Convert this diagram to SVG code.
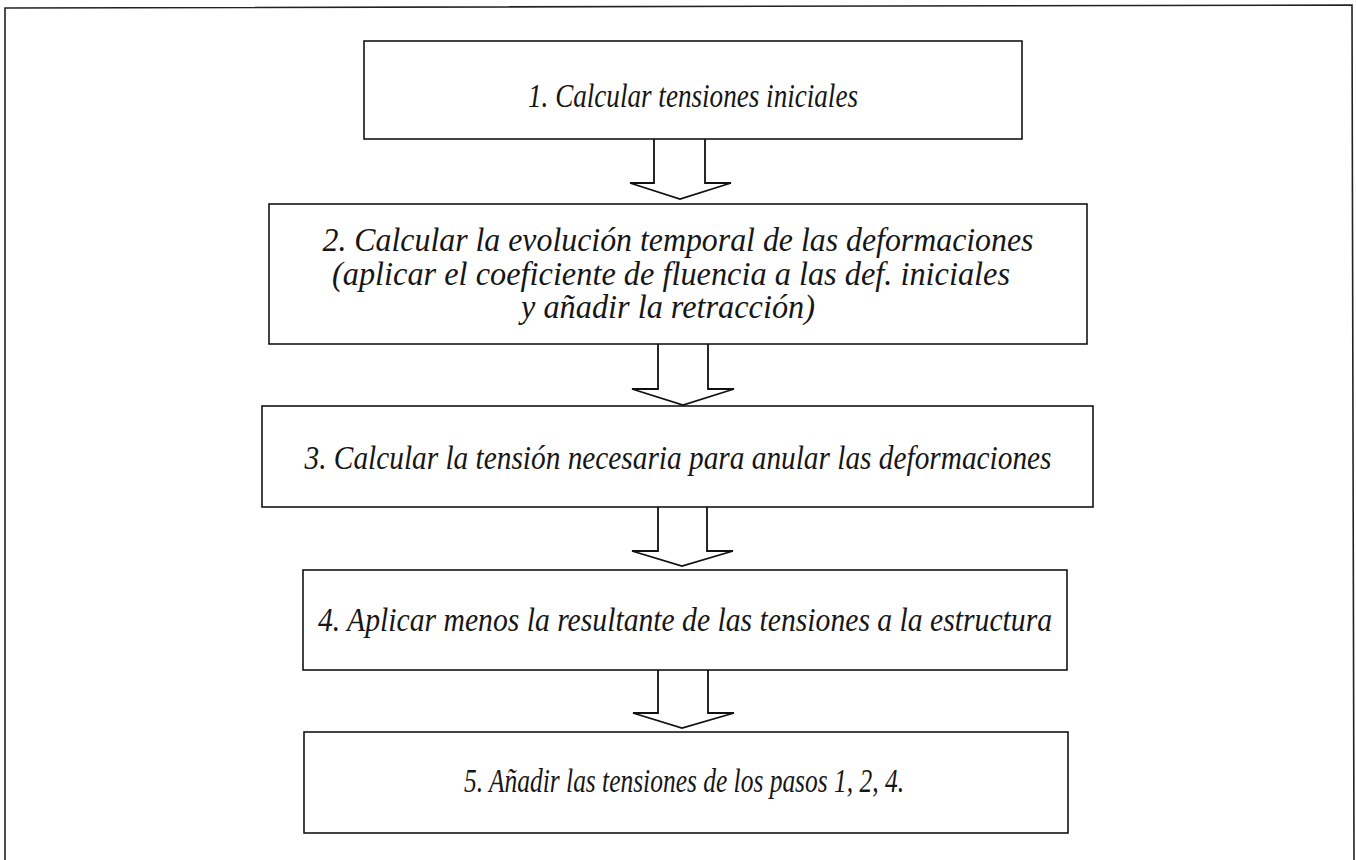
<svg xmlns="http://www.w3.org/2000/svg" width="1356" height="860" viewBox="0 0 1356 860">
<style>
.box{fill:#fff;stroke:#151515;stroke-width:1.6}
.frame{fill:none;stroke:#222;stroke-width:1.6}
.arr{fill:#fff;stroke:#111;stroke-width:1.8;stroke-linejoin:miter}
text{font-family:"Liberation Serif","Times New Roman",serif;font-style:italic;font-size:33px;fill:#161616;text-anchor:middle}
</style>
<rect width="1356" height="860" fill="#fff"/>
<path class="frame" d="M5,860 L5,8 L1352,5 L1354,860"/>
<g id="connectors">
<path class="arr" d="M654,139 L654,183 L630,183 L680,199 L731,183 L705,183 L705,139"/>
<path class="arr" d="M658,344 L658,389 L632,389 L683,405 L734,389 L708,389 L708,344"/>
<path class="arr" d="M658,507 L658,551 L632,551 L682,566 L733,551 L707,551 L707,507"/>
<path class="arr" d="M658,670 L658,713 L633,713 L682,728 L734,713 L708,713 L708,670"/>
</g>
<g id="node1">
<rect class="box" x="364" y="41" width="658" height="98"/>
<text x="693" y="107" textLength="330" lengthAdjust="spacingAndGlyphs">1. Calcular tensiones iniciales</text>
</g>
<g id="node2">
<rect class="box" x="269" y="204" width="818" height="140"/>
<text x="678" y="251" textLength="711" lengthAdjust="spacingAndGlyphs">2. Calcular la evolución temporal de las deformaciones</text>
<text x="671" y="285" textLength="678" lengthAdjust="spacingAndGlyphs">(aplicar el coeficiente de fluencia a las def. iniciales</text>
<text x="668" y="318" textLength="294" lengthAdjust="spacingAndGlyphs">y añadir la retracción)</text>
</g>
<g id="node3">
<rect class="box" x="262" y="406" width="831" height="101"/>
<text x="678" y="469" textLength="747" lengthAdjust="spacingAndGlyphs">3. Calcular la tensión necesaria para anular las deformaciones</text>
</g>
<g id="node4">
<rect class="box" x="303" y="570" width="764" height="100"/>
<text x="685" y="631" textLength="734" lengthAdjust="spacingAndGlyphs">4. Aplicar menos la resultante de las tensiones a la estructura</text>
</g>
<g id="node5">
<rect class="box" x="304" y="732" width="764" height="101"/>
<text x="684" y="792" textLength="440" lengthAdjust="spacingAndGlyphs">5. Añadir las tensiones de los pasos 1, 2, 4.</text>
</g>
</svg>
